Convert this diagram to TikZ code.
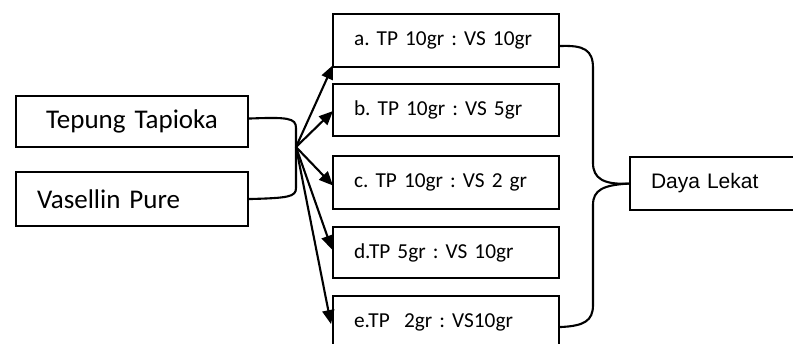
\documentclass[tikz,border=0pt]{standalone}
\usepackage{fontspec}
\setmainfont{Carlito}[WordSpace=0.85]
\newfontfamily\arialfont{Liberation Sans}
\usetikzlibrary{arrows.meta,calc}

\begin{document}
\frenchspacing
\begin{tikzpicture}[x=1pt,y=-1pt,
  box/.style={draw, line width=2.1pt, inner ysep=0pt, anchor=north west},
  bigtext/.style={font=\fontsize{27}{31}\selectfont},
  smalltext/.style={font=\fontsize{21.3}{25}\selectfont},
  indented/.style={inner xsep=21pt, text width=#1-42pt, align=left, minimum width=#1},
  centred/.style={inner xsep=0pt, text width=#1, align=center, minimum width=#1},
  link/.style={line width=2.1pt},
  arrowlink/.style={line width=2.1pt, -{Triangle[length=14pt,width=12pt]}}]

\useasboundingbox (0,0) rectangle (793,343);
\clip (0,0) rectangle (793,343);

% ingredients
\node[box, bigtext, centred=232pt, minimum height=51pt] (tt) at (15,95) {Tepung Tapioka};
\node[box, bigtext, indented=232pt, minimum height=54pt] (vp) at (15,171) {Vasellin Pure};

% mixing ratios
\node[box, smalltext, indented=226pt, minimum height=53pt] (a) at (332,13)  {a. TP 10gr : VS 10gr};
\node[box, smalltext, indented=226pt, minimum height=52pt] (b) at (332,83)  {b. TP 10gr : VS 5gr};
\node[box, smalltext, indented=226pt, minimum height=53pt] (c) at (332,155) {c. TP 10gr : VS 2 gr};
\node[box, smalltext, indented=226pt, minimum height=51pt] (d) at (332,226) {d.TP 5gr : VS 10gr};
\node[box, smalltext, indented=226pt, minimum height=52pt] (e) at (332,295) {e.TP\ \ 2gr : VS10gr};

% measured property
\node[box, font=\arialfont\fontsize{21}{25}\selectfont, indented=190pt, minimum height=53pt] (dl) at (629,156) {Daya Lekat};

% left brace joining the two ingredients
\coordinate (j) at (296,147);
\draw[link] ($(tt.east)+(0,-3)$) .. controls (288,117) and (296,118) .. (296,128) -- (j);
\draw[link] ($(vp.east)+(0,0)$) .. controls (288,198) and (296,197) .. (296,188) -- (j);

% arrows to each ratio
\draw[arrowlink] (j) -- ($(a.south west)+(1,-3)$);
\draw[arrowlink] (j) -- ($(b.west)+(1,1)$);
\draw[arrowlink] (j) -- ($(c.west)+(1,3)$);
\draw[arrowlink] (j) -- ($(d.west)+(0,-3)$);
\draw[arrowlink] (j) -- ($(e.west)+(-1,2)$);

% right brace gathering the ratios
\draw[link] ($(a.east)+(0,5.5)$) .. controls (584,45) and (593,50) .. (593,68) -- (593,163)
  .. controls (593,178) and (603,185) .. (dl.west);
\draw[link] (dl.west) .. controls (603,185) and (593,190) .. (593,205) -- (593,305)
  .. controls (593,321) and (584,326) .. ($(e.east)+(0,5)$);
\end{tikzpicture}
\end{document}
